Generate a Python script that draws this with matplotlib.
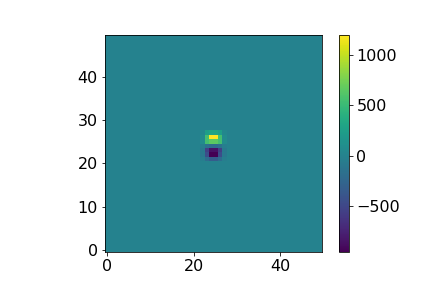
import numpy as np
import matplotlib
matplotlib.use("Agg")
import matplotlib.pyplot as plt

plt.rcParams["font.size"] = 16

# 50x50 field, zero everywhere except a small dipole-like patch
grid_size = 50
patch_col0 = 22
patch_row0 = 21
# rows listed from bottom (row 21) to top (row 27), columns 22..27
patch_rows = [
    [-40, -200, -330, -330, -200, -40],
    [-90, -450, -955, -955, -450, -90],
    [-90, -550, -850, -850, -550, -90],
    [-30, -150, -200, -200, -150, -30],
    [80, 550, 650, 650, 550, 80],
    [80, 550, 1190, 1190, 550, 80],
    [40, 250, 300, 300, 250, 40],
]

field = np.zeros((grid_size, grid_size))
patch = np.array(patch_rows, dtype=float)
field[patch_row0:patch_row0 + patch.shape[0], patch_col0:patch_col0 + patch.shape[1]] = patch

fig = plt.figure(figsize=(6, 4), dpi=72)
ax = fig.add_axes([104 / 432, 1 - 252.3 / 288, 218.3 / 432, 217 / 288])
cax = fig.add_axes([339.3 / 432, 1 - 252.3 / 288, 10 / 432, 217 / 288])

im = ax.imshow(field, origin="lower", cmap="viridis")
fig.colorbar(im, cax=cax)

fig.savefig("out.png", dpi=72)
